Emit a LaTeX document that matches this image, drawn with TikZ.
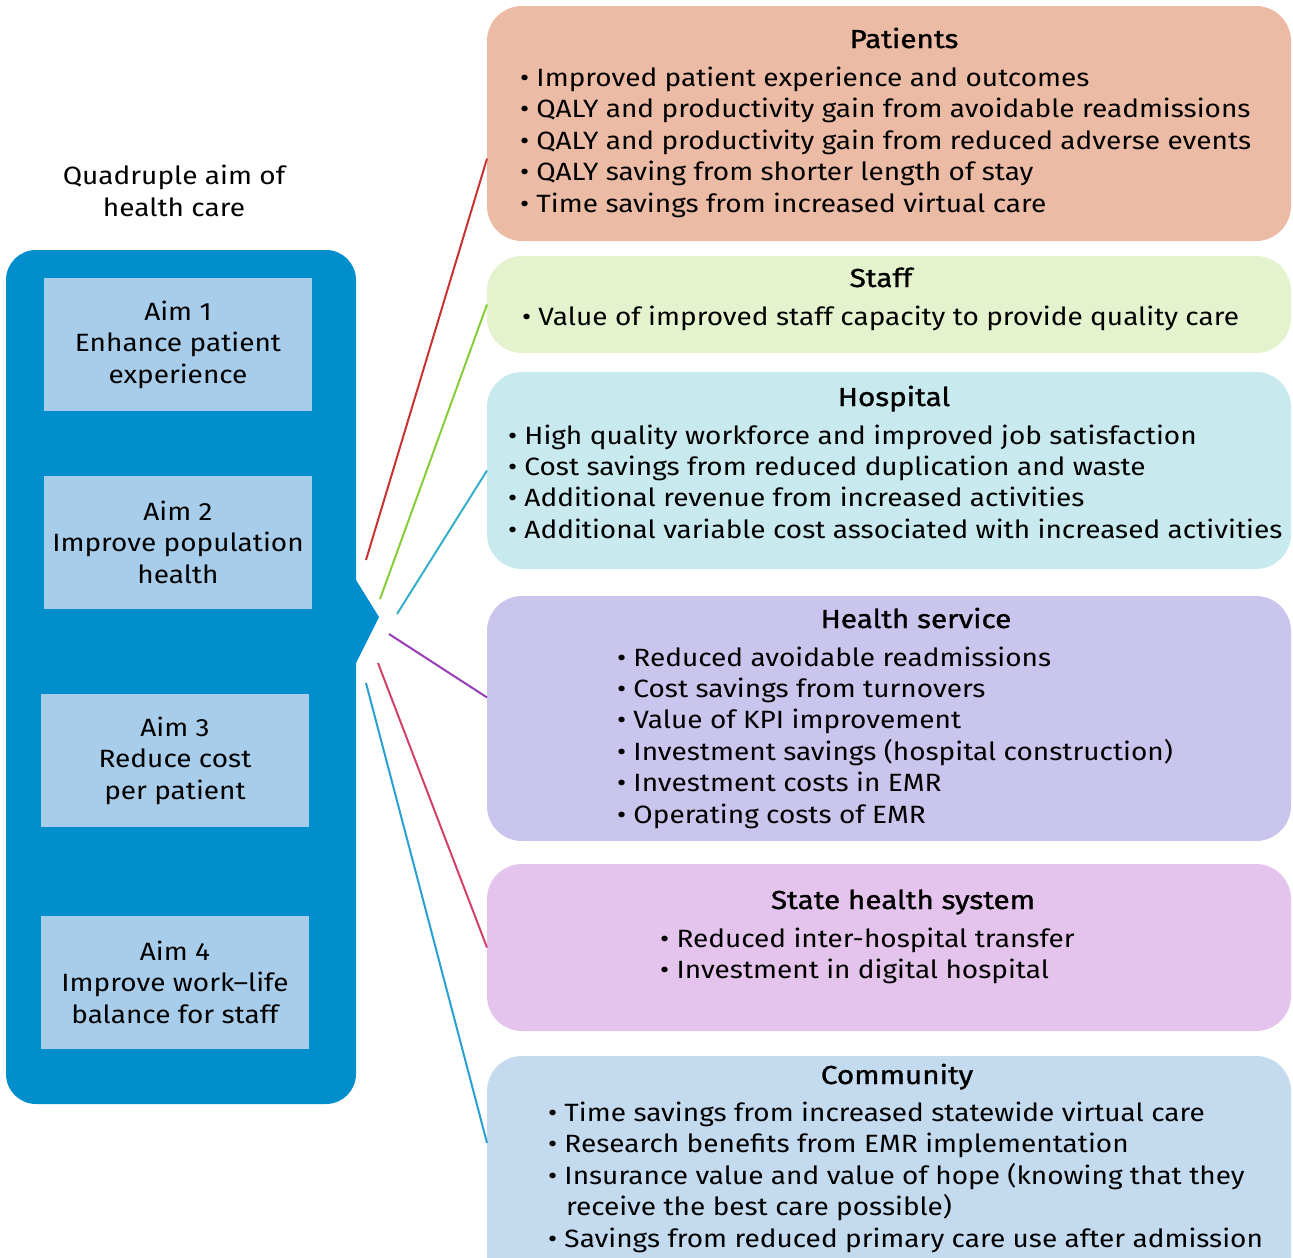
\documentclass[tikz,border=0pt]{standalone}
\usepackage{fontspec}
\setmainfont{Fira Sans}[FakeStretch=1.12]
\newfontfamily\headfont{Fira Sans}[FakeStretch=1.14,FakeBold=1.2]
\usepackage{tikz}
\usetikzlibrary{positioning}
\usepackage{xcolor}

\definecolor{aimblue}{RGB}{0,142,204}
\definecolor{aimlight}{RGB}{168,205,235}
\definecolor{patfill}{RGB}{236,187,166}
\definecolor{stafffill}{RGB}{228,243,206}
\definecolor{hospfill}{RGB}{200,233,238}
\definecolor{servfill}{RGB}{201,197,236}
\definecolor{statefill}{RGB}{228,196,236}
\definecolor{commfill}{RGB}{196,219,239}
\definecolor{linkred}{RGB}{200,50,50}
\definecolor{linkgreen}{RGB}{135,205,55}
\definecolor{linkcyan}{RGB}{55,175,200}
\definecolor{linkpurple}{RGB}{150,60,180}
\definecolor{linkpink}{RGB}{210,65,105}
\definecolor{linkblue}{RGB}{40,160,210}

\begin{document}
\begin{tikzpicture}[x=1pt,y=-1pt,
    every node/.style={font=\fontsize{25}{31.5}\selectfont, inner sep=0pt, outer sep=0pt},
    aimbox/.style={fill=aimlight, minimum width=268pt, minimum height=133pt, align=center},
    group/.style={rounded corners=35pt, minimum width=804pt},
    head/.style={anchor=base, font=\fontsize{26}{31.5}\selectfont\headfont},
    item/.style={anchor=base west},
    link/.style={line width=2pt}]
    \useasboundingbox (0,0) rectangle (1293,1258);

    % left panel with the four aims
    \node[align=center] (quad) at (174,191) {Quadruple aim of\\health care};
    \fill[aimblue, rounded corners=30pt] (6,250) rectangle (356,1104);
    \fill[aimblue] (350,580) -- (356,580) -- (379,617) -- (356,663) -- (350,663) -- cycle;
    \node[aimbox] (aim1) at (178,344.5) {Aim 1\\Enhance patient\\experience};
    \node[aimbox] (aim2) at (178,542) {Aim 2\\Improve population\\health};
    \node[aimbox] (aim3) at (175,760.5) {Aim 3\\Reduce cost\\per patient};
    \node[aimbox] (aim4) at (175,982) {Aim 4\\Improve work–life\\balance for staff};

    % right column
    \node[group, fill=patfill, minimum height=235pt] (patients) at (889,123.5) {};
    \node[head] (patients-h) at (904,48) {Patients};
    \foreach \t [count=\i from 0] in {Improved patient experience and outcomes,
        QALY and productivity gain from avoidable readmissions,
        QALY and productivity gain from reduced adverse events,
        QALY saving from shorter length of stay,
        Time savings from increased virtual care}
        \node[item] (pat-\i) at (520,86+31.5*\i) {• \t};

    \node[group, fill=stafffill, minimum height=97pt] (staff) at (889,304.5) {};
    \node[head] (staff-h) at (881,287) {Staff};
    \node[item] (staff-0) at (522,325) {• Value of improved staff capacity to provide quality care};

    \node[group, fill=hospfill, minimum height=197pt] (hospital) at (889,470.5) {};
    \node[head] (hospital-h) at (894,406) {Hospital};
    \foreach \t [count=\i from 0] in {High quality workforce and improved job satisfaction,
        Cost savings from reduced duplication and waste,
        Additional revenue from increased activities,
        Additional variable cost associated with increased activities}
        \node[item] (hosp-\i) at (508,444+31.4*\i) {• \t};

    \node[group, fill=servfill, minimum height=245pt] (service) at (889,718.5) {};
    \node[head] (service-h) at (916,628) {Health service};
    \foreach \t [count=\i from 0] in {Reduced avoidable readmissions,
        Cost savings from turnovers,
        Value of KPI improvement,
        Investment savings (hospital construction),
        Investment costs in EMR,
        Operating costs of EMR}
        \node[item] (serv-\i) at (617,666+31.4*\i) {• \t};

    \node[group, fill=statefill, minimum height=167pt] (state) at (889,947.5) {};
    \node[head] (state-h) at (903,909) {State health system};
    \foreach \t [count=\i from 0] in {Reduced inter-hospital transfer,
        Investment in digital hospital}
        \node[item] (st-\i) at (660,947+31.5*\i) {• \t};

    \node[group, fill=commfill, minimum height=244pt] (community) at (889,1178) {};
    \node[head] (community-h) at (897,1084) {Community};
    \foreach \x/\t [count=\i from 0] in {548/• Time savings from increased statewide virtual care,
        548/• Research benefits from EMR implementation,
        548/• Insurance value and value of hope (knowing that they,
        566/receive the best care possible),
        548/• Savings from reduced primary care use after admission}
        \node[item] (com-\i) at (\x,1121+31.5*\i) {\t};

    % connectors from the tip of the panel
    \coordinate (tip1) at (366,560);
    \coordinate (tip2) at (380,599);
    \coordinate (tip3) at (397,614);
    \coordinate (tip4) at (389,634);
    \coordinate (tip5) at (378,663);
    \coordinate (tip6) at (366,683);
    \draw[link, linkred] (tip1) -- (patients.185.6);
    \draw[link, linkgreen] (tip2) -- (staff.west);
    \draw[link, linkcyan] (tip3) -- (hospital.west);
    \draw[link, linkpurple] (tip4) -- (service.177.8);
    \draw[link, linkpink] (tip5) -- (state.west);
    \draw[link, linkblue] (tip6) -- (community.175.6);

\end{tikzpicture}
\end{document}
